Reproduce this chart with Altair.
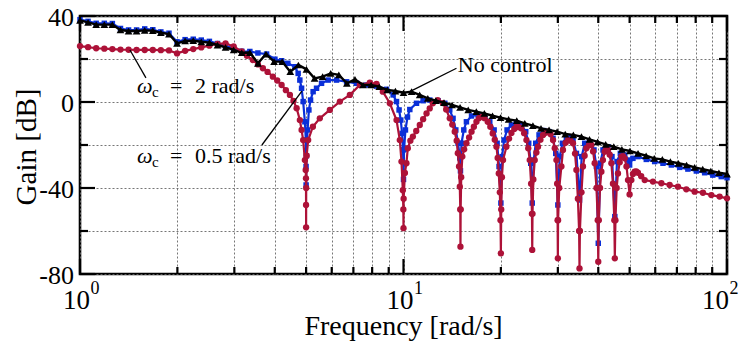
import altair as alt
import pandas as pd

# ---------------- data ----------------
# No control (black triangles)
nc_f = [1.000, 1.059, 1.122, 1.189, 1.259, 1.334, 1.413, 1.496, 1.585, 1.679,
        1.778, 1.884, 1.995, 2.113, 2.239, 2.371, 2.512, 2.661, 2.818, 2.985,
        3.162, 3.350, 3.548, 3.758, 3.981, 4.217, 4.467, 4.732, 5.012, 5.309,
        5.623, 5.957, 6.310, 6.683, 7.079, 7.499, 7.943, 8.414, 8.913, 9.441,
        10.00, 10.59, 11.22, 11.89, 12.59, 13.34, 14.13, 14.96, 15.85, 16.79,
        17.78, 18.84, 19.95, 21.13, 22.39, 23.71, 25.12, 26.61, 28.18, 29.85,
        31.62, 33.50, 35.48, 37.58, 39.81, 42.17, 44.67, 47.32, 50.12, 53.09,
        56.23, 59.57, 63.10, 66.83, 70.79, 74.99, 79.43, 84.14, 89.13, 94.41, 100.0]
nc_g = [38.0, 37.0, 36.0, 36.0, 36.0, 33.5, 33.0, 33.0, 33.3, 33.2,
        32.2, 31.6, 27.3, 28.4, 28.5, 28.0, 27.6, 26.5, 25.4, 24.2,
        22.9, 23.0, 18.0, 22.3, 18.8, 18.8, 14.1, 17.2, 15.2, 11.0,
        11.8, 13.3, 12.6, 8.7, 10.5, 7.9, 7.9, 7.1, 5.6, 5.1,
        4.3, 4.8, 3.3, 1.7, 0.6, -0.3, -1.4, -2.5, -3.7, -4.5,
        -5.3, -6.4, -7.3, -8.1, -8.7, -9.9, -11.0, -12.3, -13.0, -13.8,
        -14.9, -15.3, -16.1, -17.4, -18.5, -19.7, -20.8, -22.0, -22.8, -23.9,
        -25.0, -26.2, -26.7, -27.7, -28.5, -29.3, -30.4, -31.2, -32.1, -32.9, -33.5]

# wc = 2 rad/s (blue squares)
b_f = [1.0, 1.059, 1.122, 1.189, 1.259, 1.334, 1.413, 1.496, 1.585, 1.679,
       1.778, 1.884, 1.995, 2.113, 2.239, 2.371, 2.512, 2.661, 2.818, 2.985,
       3.162, 3.35, 3.548, 3.774, 4.004, 4.2, 4.39, 4.616, 4.725, 4.782,
       4.841, 4.896, 4.956, 4.991, 4.998, 5.0, 5.01, 5.052, 5.1, 5.16,
       5.256, 5.385, 5.58, 5.85, 6.21, 6.67, 7.16, 7.69, 8.25, 8.86,
       9.29, 9.515, 9.69, 9.81, 9.90, 9.97, 10.0, 10.04, 10.14, 10.29,
       10.46, 10.97, 11.5, 12.06, 12.79, 13.42, 13.9, 14.23, 14.51, 14.75,
       14.93, 15.0, 15.11, 15.36, 15.65, 16.23, 17.0, 17.84, 18.48, 19.06,
       19.47, 19.74, 20.0, 20.17, 20.46, 20.9, 21.56, 22.35, 23.15, 23.87,
       24.38, 24.74, 25.0, 25.27, 25.63, 26.24, 27.13, 28.18, 28.99, 29.55,
       30.0, 30.4, 30.99, 31.88, 32.9, 33.42, 34.24, 35.0, 35.55, 36.32,
       37.63, 38.8, 39.47, 40.0, 40.61, 41.37, 42.87, 44.1, 45.0, 45.7,
       46.8, 48.29, 49.43, 50.0, 51.2, 53.06, 56.3, 59.75, 63.4, 67.3,
       71.4, 75.7, 80.4, 85.3, 90.4, 96.0, 100.0]
b_g = [38.3, 37.5, 36.6, 36.6, 36.5, 34.2, 33.5, 33.5, 34.0, 33.6,
       32.6, 32.0, 28.0, 29.0, 29.2, 28.8, 28.2, 27.2, 26.0, 25.0,
       23.6, 23.5, 22.8, 22.3, 19.9, 19.2, 18.0, 16.4, 13.3, 10.2,
       6.4, 0.2, -9.2, -17.7, -30.0, -38.6, -25.0, -13.0, -3.7, 0.9,
       4.8, 6.4, 8.7, 10.2, 10.2, 9.4, 8.7, 7.9, 7.4, 5.9,
       3.3, 0.2, -3.7, -8.4, -14.6, -22.3, -36.0, -22.0, -13.0, -7.0,
       -3.5, -0.6, 0.6, 0.9, 0.6, -0.6, -3.7, -7.6, -13.0, -19.2,
       -26.0, -32.0, -19.2, -13.0, -9.2, -6.5, -6.0, -6.8, -9.2, -13.0,
       -19.2, -30.0, -47.0, -25.4, -17.7, -13.0, -10.7, -9.9, -10.7, -13.8,
       -19.2, -28.5, -47.0, -27.0, -19.2, -15.3, -13.3, -13.8, -16.9, -23.9,
       -47.9, -25.4, -19.2, -16.9, -16.5, -17.7, -23.9, -45.6, -25.4, -19.2,
       -18.5, -22.3, -30.0, -65.7, -28.5, -22.3, -20.8, -25.4, -53.3, -27.7,
       -23.9, -24.7, -27.0, -29.3, -26.2, -25.4, -26.7, -27.7, -28.5, -29.3,
       -30.4, -31.2, -32.1, -32.9, -34.0, -34.7, -35.2]

# wc = 0.5 rad/s (red circles)
r_f = [1.0, 1.059, 1.122, 1.189, 1.259, 1.334, 1.413, 1.496, 1.585, 1.679,
       1.778, 1.884, 1.995, 2.113, 2.239, 2.371, 2.512, 2.661, 2.818, 2.985,
       3.162, 3.281, 3.423, 3.55, 3.676, 3.80, 3.947, 4.07, 4.2, 4.33,
       4.455, 4.57, 4.673, 4.782, 4.841, 4.896, 4.956, 4.985, 4.995, 4.998,
       5.0, 5.003, 5.02, 5.074, 5.246, 5.512, 5.92, 6.358, 6.826, 7.328,
       7.868, 8.253, 8.632, 9.073, 9.515, 9.741, 9.858, 9.95, 9.99, 10.0,
       10.01, 10.1, 10.21, 10.31, 10.5, 10.69, 10.95, 11.23, 11.5, 11.78,
       12.05, 12.32, 12.76, 13.23, 13.55, 13.90, 14.15, 14.40, 14.6, 14.72,
       14.85, 14.93, 14.98, 15.0, 15.02, 15.08, 15.20, 15.40, 15.65, 15.95,
       16.23, 16.5, 16.81, 17.1, 17.42, 17.8, 18.21, 18.55, 18.87, 19.15,
       19.38, 19.55, 19.70, 19.85, 19.95, 20.0, 20.05, 20.15, 20.31, 20.81,
       21.2, 21.56, 22.0, 22.35, 22.75, 23.15, 23.6, 23.99, 24.3, 24.56,
       24.8, 24.95, 25.0, 25.05, 25.2, 25.45, 25.75, 26.05, 26.5, 27.0,
       27.5, 27.98, 28.5, 28.99, 29.35, 29.70, 29.85, 29.95, 30.0, 30.05,
       30.3, 30.77, 31.12, 31.7, 32.25, 32.8, 33.42, 33.9, 34.24, 34.6,
       34.9, 35.0, 35.1, 35.5, 35.88, 36.3, 36.76, 37.4, 38.09, 38.55,
       38.99, 39.5, 39.85, 40.0, 40.15, 40.5, 40.90, 41.35, 41.87, 42.35,
       42.87, 43.4, 43.92, 44.4, 44.85, 45.0, 45.2, 45.6, 46.03, 46.6,
       47.16, 47.7, 48.29, 48.9, 49.43, 50.0, 50.63, 51.2, 51.83, 52.4,
       53.06, 54.3, 55.67, 59.04, 62.69, 66.49, 70.53, 74.86, 79.43, 84.27,
       89.45, 94.87, 100.0]
r_g = [26.0, 25.5, 25.0, 24.8, 24.6, 24.4, 24.3, 24.2, 24.2, 24.2,
       24.1, 24.0, 22.6, 23.8, 24.6, 25.4, 26.2, 27.0, 27.3, 25.8,
       23.5, 21.5, 19.5, 17.5, 15.7, 14.0, 11.8, 10.0, 7.9, 5.5,
       3.3, 0.5, -2.9, -8.4, -13.0, -17.7, -27.0, -31.6, -35.5, -47.9,
       -58.3, -40.0, -25.0, -17.7, -11.5, -7.6, -3.7, 0.2, 3.3, 7.9,
       9.0, 8.4, 4.8, -0.6, -8.4, -17.7, -27.7, -41.0, -50.0, -58.7,
       -45.0, -33.0, -28.5, -21.5, -18.0, -16.1, -13.5, -10.7, -8.0, -5.3,
       -3.0, -0.6, 0.9, -0.5, -3.5, -7.6, -10.5, -13.8, -18.0, -23.8,
       -30.0, -39.4, -50.0, -67.3, -50.0, -35.0, -25.4, -22.0, -19.2, -16.5,
       -13.8, -11.5, -9.2, -7.5, -6.8, -7.5, -9.2, -11.5, -14.6, -17.5,
       -20.8, -26.0, -33.2, -42.0, -55.0, -70.4, -50.0, -35.0, -27.0, -20.8,
       -17.0, -14.4, -12.5, -11.5, -11.7, -12.3, -14.5, -17.7, -21.5, -27.0,
       -38.0, -52.0, -68.8, -52.0, -36.0, -27.0, -23.5, -20.8, -17.5, -15.3,
       -14.3, -13.8, -15.0, -17.7, -21.5, -27.0, -38.0, -55.0, -72.7, -55.0,
       -40.0, -30.0, -22.3, -19.0, -17.7, -18.0, -19.2, -24.0, -31.6, -45.0,
       -60.0, -77.4, -60.0, -42.0, -30.0, -25.0, -21.5, -20.2, -20.0, -23.0,
       -28.5, -40.0, -55.0, -74.3, -55.0, -40.0, -32.4, -27.0, -23.1, -22.0,
       -22.3, -24.5, -28.5, -38.0, -55.0, -72.7, -55.0, -40.0, -33.2, -28.0,
       -25.4, -25.2, -26.2, -30.0, -36.3, -43.0, -36.3, -33.5, -32.4, -32.3,
       -32.9, -34.5, -36.3, -37.0, -37.8, -38.6, -39.4, -40.6, -41.7, -42.2,
       -43.3, -44.0, -44.8]

# axis ticks / gridlines
x_major = [1, 10, 100]
x_minor = [2, 3, 4, 5, 6, 7, 8, 9, 20, 30, 40, 50, 60, 70, 80, 90]
y_major = [40, 0, -40, -80]
y_minor = [20, -20, -60]
y_labels = ["40", "0", "-40", "-80"]
x_label_pos = [1, 10]          # decade labels drawn centred on their tick
x_label_last = [100]           # last decade label, nudged in from the edge
x_label_base = ["10", "10"]
x_label_exp = ["0", "1"]

# annotations: leader lines (f, gain) pairs
lead_id = ["a", "a", "b", "b", "c", "c"]
lead_f = [1.427, 1.599, 3.650, 4.851, 14.58, 10.46]
lead_g = [24.2, 11.2, -20.0, 5.1, 15.7, 4.8]

# annotation text pieces
omega_f = [1.5, 1.5]
omega_g = [4.0, -28.5]
sub_f = [1.669, 1.669]
sub_g = [2.5, -30.0]
eq_f = [1.897, 1.897]
eq_g = [4.0, -28.5]
val_f = [2.266, 2.266, 14.72]
val_g = [4.0, -28.5, 14.0]
val_t = ["2 rad/s", "0.5 rad/s", "No control"]

# ---------------- chart ----------------
W, H = 647, 258
FONT = "Liberation Serif"
BLUE = "#0a2fd8"
RED = "#ad1238"

xscale = alt.Scale(type="log", domain=[1, 100], nice=False)
yscale = alt.Scale(domain=[-80, 40], nice=False, zero=False)
xaxis = alt.Axis(values=x_major + x_minor, grid=True, labels=False, ticks=False,
                 domain=False, title=None, gridDash=[2, 2], gridColor="#666666",
                 gridWidth=0.9)
yaxis = alt.Axis(values=[-80, -60, -40, -20, 0, 20, 40], grid=True, labels=False,
                 ticks=False, domain=False, title=None, gridDash=[2, 2],
                 gridColor="#666666", gridWidth=0.9)


def X(field="f"):
    return alt.X(f"{field}:Q", scale=xscale, axis=xaxis)


def Y(field="g"):
    return alt.Y(f"{field}:Q", scale=yscale, axis=yaxis)


df_nc = pd.DataFrame({"f": nc_f, "g": nc_g})
df_b = pd.DataFrame({"f": b_f, "g": b_g})
df_r = pd.DataFrame({"f": r_f, "g": r_g})

layers = []
# blue
layers.append(alt.Chart(df_b).mark_line(color=BLUE, strokeWidth=2.2).encode(x=X(), y=Y()))
layers.append(alt.Chart(df_b).mark_point(shape="square", filled=True, color=BLUE,
                                         size=30, opacity=1).encode(x=X(), y=Y()))
# red
layers.append(alt.Chart(df_r).mark_line(color=RED, strokeWidth=2.2).encode(x=X(), y=Y()))
layers.append(alt.Chart(df_r).mark_point(shape="circle", filled=True, color=RED,
                                         size=40, opacity=1).encode(x=X(), y=Y()))
# black
layers.append(alt.Chart(df_nc).mark_line(color="black", strokeWidth=2.4).encode(x=X(), y=Y()))
layers.append(alt.Chart(df_nc).mark_point(shape="triangle-up", filled=True, color="black",
                                          size=60, opacity=1).encode(x=X(), y=Y()))

# inward ticks
dxM = pd.DataFrame({"f": x_major})
dxm = pd.DataFrame({"f": x_minor})
dyM = pd.DataFrame({"g": y_major})
dym = pd.DataFrame({"g": y_minor})
tick = dict(color="black", strokeWidth=2.2)
layers += [
    alt.Chart(dxM).mark_rule(**tick).encode(x=X(), y=alt.value(H), y2=alt.value(H - 15)),
    alt.Chart(dxM).mark_rule(**tick).encode(x=X(), y=alt.value(0), y2=alt.value(15)),
    alt.Chart(dxm).mark_rule(**tick).encode(x=X(), y=alt.value(H), y2=alt.value(H - 7)),
    alt.Chart(dxm).mark_rule(**tick).encode(x=X(), y=alt.value(0), y2=alt.value(7)),
    alt.Chart(dyM).mark_rule(**tick).encode(y=Y(), x=alt.value(0), x2=alt.value(15)),
    alt.Chart(dyM).mark_rule(**tick).encode(y=Y(), x=alt.value(W), x2=alt.value(W - 15)),
    alt.Chart(dym).mark_rule(**tick).encode(y=Y(), x=alt.value(0), x2=alt.value(8)),
    alt.Chart(dym).mark_rule(**tick).encode(y=Y(), x=alt.value(W), x2=alt.value(W - 8)),
]

# tick labels
layers.append(alt.Chart(pd.DataFrame({"g": y_major, "t": y_labels})).mark_text(
    font=FONT, fontSize=26, align="right", baseline="middle", color="black", dy=2
).encode(y=Y(), x=alt.value(-6), text="t:N"))
layers.append(alt.Chart(pd.DataFrame({"f": x_label_pos, "t": x_label_base})).mark_text(
    font=FONT, fontSize=27, align="right", baseline="alphabetic", color="black", dx=10
).encode(x=X(), y=alt.value(H + 35), text="t:N"))
layers.append(alt.Chart(pd.DataFrame({"f": x_label_pos, "t": x_label_exp})).mark_text(
    font=FONT, fontSize=18, align="left", baseline="alphabetic", color="black", dx=10.5
).encode(x=X(), y=alt.value(H + 20), text="t:N"))
layers.append(alt.Chart(pd.DataFrame({"f": x_label_last, "t": ["10"]})).mark_text(
    font=FONT, fontSize=27, align="right", baseline="alphabetic", color="black", dx=2
).encode(x=X(), y=alt.value(H + 35), text="t:N"))
layers.append(alt.Chart(pd.DataFrame({"f": x_label_last, "t": ["2"]})).mark_text(
    font=FONT, fontSize=18, align="left", baseline="alphabetic", color="black", dx=2.5
).encode(x=X(), y=alt.value(H + 20), text="t:N"))

# axis titles
layers.append(alt.Chart(pd.DataFrame({"t": ["Frequency [rad/s]"]})).mark_text(
    font=FONT, fontSize=28, align="center", baseline="alphabetic", color="black"
).encode(x=alt.value(W / 2), y=alt.value(H + 61), text="t:N"))
layers.append(alt.Chart(pd.DataFrame({"t": ["Gain [dB]"]})).mark_text(
    font=FONT, fontSize=29, align="center", baseline="alphabetic", color="black", angle=270
).encode(x=alt.value(-44), y=alt.value(H / 2 + 2), text="t:N"))

# leader lines
layers.append(alt.Chart(pd.DataFrame({"id": lead_id, "f": lead_f, "g": lead_g})).mark_line(
    color="black", strokeWidth=1.3
).encode(x=X(), y=Y(), detail="id:N"))

# annotation texts
layers.append(alt.Chart(pd.DataFrame({"f": omega_f, "g": omega_g, "t": ["ω", "ω"]})).mark_text(
    font=FONT, fontSize=22, fontStyle="italic", align="left", baseline="alphabetic", color="black"
).encode(x=X(), y=Y(), text="t:N"))
layers.append(alt.Chart(pd.DataFrame({"f": sub_f, "g": sub_g, "t": ["c", "c"]})).mark_text(
    font=FONT, fontSize=15, align="left", baseline="alphabetic", color="black"
).encode(x=X(), y=Y(), text="t:N"))
layers.append(alt.Chart(pd.DataFrame({"f": eq_f, "g": eq_g, "t": ["=", "="]})).mark_text(
    font=FONT, fontSize=22, align="left", baseline="alphabetic", color="black"
).encode(x=X(), y=Y(), text="t:N"))
layers.append(alt.Chart(pd.DataFrame({"f": val_f, "g": val_g, "t": val_t})).mark_text(
    font=FONT, fontSize=22, align="left", baseline="alphabetic", color="black"
).encode(x=X(), y=Y(), text="t:N"))

chart = alt.layer(*layers).properties(
    width=W, height=H,
    autosize=alt.AutoSizeParams(type="none"),
    padding={"left": 72, "top": 8, "right": 12, "bottom": 68},
    background="white",
).configure_view(stroke="black", strokeWidth=2.6)

chart.save("out.html", embed_options={"renderer": "svg", "actions": False})
